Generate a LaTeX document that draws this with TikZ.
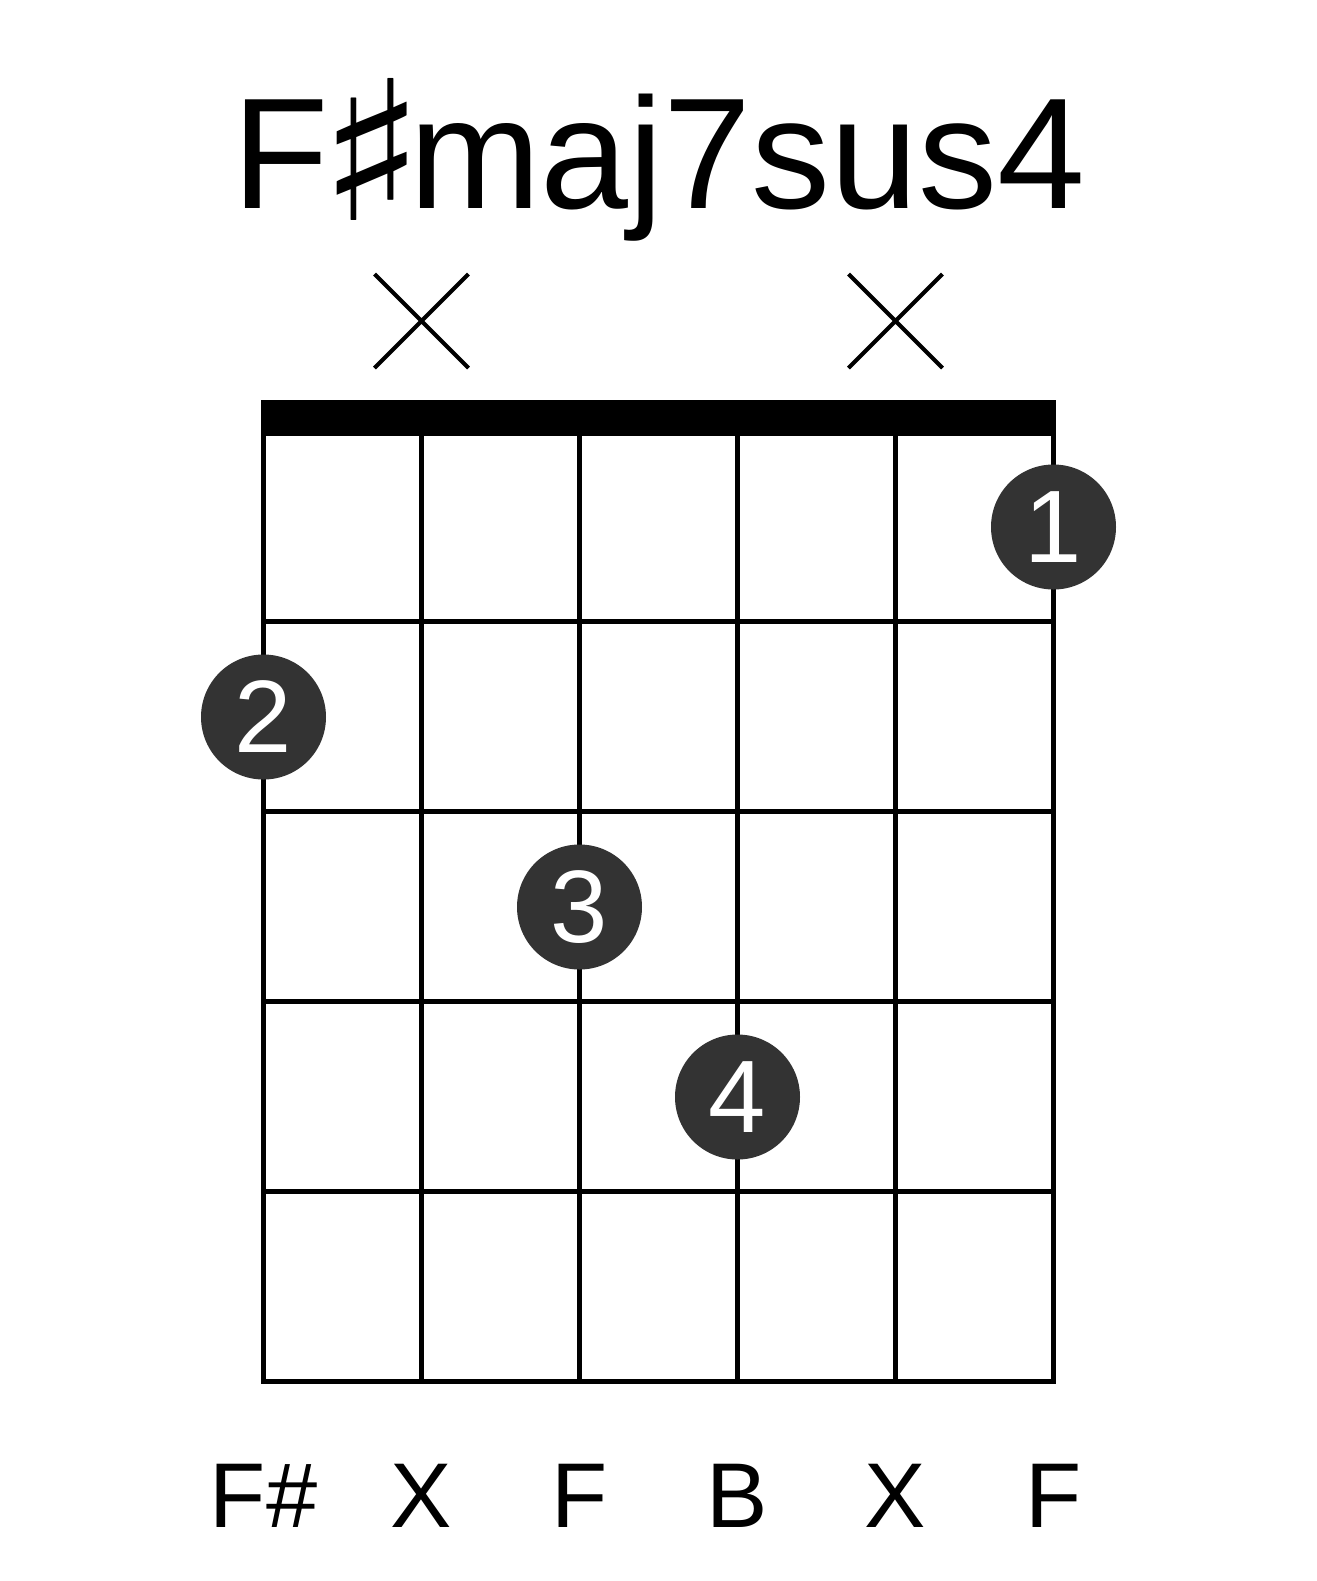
\documentclass[tikz,border=0pt]{standalone}
\usepackage{fontspec}
\usepackage{graphicx}
\setmainfont{Liberation Sans}
\newfontfamily\musicfont{DejaVu Sans}
\definecolor{dotgray}{HTML}{333333}
\tikzset{
	fingerdot/.style={circle, fill=dotgray, minimum size=62.5pt, inner sep=0pt, text=white, font=\fontsize{51.5pt}{52pt}\selectfont},
	stringname/.style={anchor=base, font=\fontsize{46pt}{46pt}\selectfont},
	gridline/.style={line width=2.5pt},
	mutemark/.style={line width=2pt},
}
\begin{document}
\begin{tikzpicture}[x=0.5pt, y=-0.5pt, line join=miter]
		\useasboundingbox (0,0) rectangle (1317,1581);
		%	title
		\node[anchor=base, font=\fontsize{79pt}{79pt}\selectfont] (title) at (659,208) {F\kern-5.5pt{\musicfont\raisebox{-6pt}{\scalebox{1.4}[1.23]{♯}}}\kern-8pt maj7sus4};
		%	nut, strings, frets
		\fill (261,400) rectangle (1056,433);
		\draw[gridline] (263.5,433) rectangle (1053.5,1381);
		\foreach \i in {1,...,4} \draw[gridline] ({263.5+158*\i},433) -- ({263.5+158*\i},1381);
		\foreach \j in {1,...,4} \draw[gridline] (263.5,{432+189.8*\j}) -- (1053.5,{432+189.8*\j});
		%	muted strings
		\foreach \x in {421.5,895.5} \draw[mutemark] (\x-47,274) -- (\x+47,368) (\x-47,368) -- (\x+47,274);
		%	fingers
		\node[fingerdot] (dotA) at (1053.5,527) {1};
		\node[fingerdot] (dotB) at (263.5,717) {2};
		\node[fingerdot] (dotC) at (579.5,907) {3};
		\node[fingerdot] (dotD) at (737.5,1097) {4};
		%	notes
		\foreach \n/\t in {0/F\#,1/X,2/F,3/B,4/X,5/F}
			\node[stringname] (note\n) at ({263.5+158*\n},1527) {\t};
\end{tikzpicture}
\end{document}
